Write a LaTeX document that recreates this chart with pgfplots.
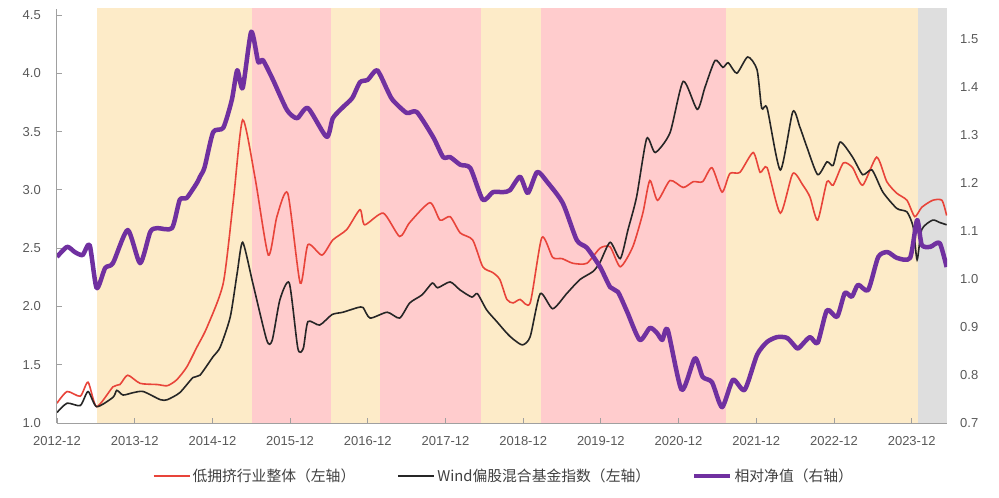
\documentclass[border=0pt]{standalone}
\usepackage{fontspec}
\setmainfont{Liberation Sans}
\newfontfamily\cjk{Noto Sans CJK SC}
\usepackage{pgfplots}
\pgfplotsset{compat=1.18}
\definecolor{bgyellow}{HTML}{FDEBC8}
\definecolor{bgpink}{HTML}{FFCCCD}
\definecolor{bggray}{HTML}{DEDEDE}
\definecolor{lred}{HTML}{E8443A}
\definecolor{lblack}{HTML}{262626}
\definecolor{lpurple}{HTML}{7030A0}
\definecolor{tickgray}{HTML}{595959}
\definecolor{axgray}{HTML}{A0A0A0}
\definecolor{leggray}{HTML}{404040}
\begin{document}
\begin{tikzpicture}
\path[use as bounding box] (0,0) rectangle (999bp,498bp);
\begin{axis}[
  at={(57bp,75bp)}, anchor=south west,
  scale only axis, width=890bp, height=414bp,
  xmin=0, xmax=11.455, ymin=1, ymax=4.551,
  axis x line*=bottom, axis y line*=left,
  axis line style={axgray, line width=1bp, -},
  axis on top,
  tick align=inside, major tick length=5bp,
  tick style={axgray, line width=0.8bp},
  xtick={0,1,2,3,4,5,6,7,8,9,10,11},
  xticklabels={2012-12,2013-12,2014-12,2015-12,2016-12,2017-12,2018-12,2019-12,2020-12,2021-12,2022-12,2023-12},
  xticklabel style={font=\fontsize{13bp}{15bp}\selectfont, text=tickgray, inner sep=0pt, yshift=-13bp},
  ytick={1,1.5,2,2.5,3,3.5,4,4.5},
  yticklabel style={font=\fontsize{13bp}{15bp}\selectfont, text=tickgray, inner sep=0pt, xshift=-16bp,
    /pgf/number format/.cd, fixed, fixed zerofill, precision=1, assume math mode=true},
]
\addplot[fill=bgyellow, draw=none, forget plot] coordinates {(0.515,4.6) (2.51,4.6)} \closedcycle;
\addplot[fill=bgpink, draw=none, forget plot] coordinates {(2.51,4.6) (3.53,4.6)} \closedcycle;
\addplot[fill=bgyellow, draw=none, forget plot] coordinates {(3.53,4.6) (4.16,4.6)} \closedcycle;
\addplot[fill=bgpink, draw=none, forget plot] coordinates {(4.16,4.6) (5.46,4.6)} \closedcycle;
\addplot[fill=bgyellow, draw=none, forget plot] coordinates {(5.46,4.6) (6.23,4.6)} \closedcycle;
\addplot[fill=bgpink, draw=none, forget plot] coordinates {(6.23,4.6) (8.61,4.6)} \closedcycle;
\addplot[fill=bgyellow, draw=none, forget plot] coordinates {(8.61,4.6) (11.08,4.6)} \closedcycle;
\addplot[fill=bggray, draw=none, forget plot] coordinates {(11.08,4.6) (11.46,4.6)} \closedcycle;
% 低拥挤行业整体
\addplot[lred, line width=1.6bp, smooth, tension=0.4] coordinates {
(0.00,1.17)(0.13,1.27)(0.30,1.23)(0.40,1.35)(0.51,1.14)(0.72,1.31)(0.81,1.33)(0.91,1.41)(1.07,1.34)(1.29,1.33)(1.42,1.32)(1.54,1.37)(1.67,1.48)(1.80,1.65)(1.93,1.82)(2.14,2.20)(2.27,2.91)(2.39,3.60)(2.55,3.10)(2.72,2.44)(2.83,2.77)(2.97,2.97)(3.13,2.20)(3.23,2.53)(3.41,2.44)(3.55,2.57)(3.73,2.66)(3.90,2.83)(3.96,2.70)(4.20,2.80)(4.41,2.60)(4.54,2.72)(4.80,2.89)(4.93,2.74)(5.06,2.77)(5.19,2.63)(5.35,2.57)(5.48,2.34)(5.61,2.29)(5.70,2.23)(5.79,2.06)(5.87,2.03)(5.96,2.06)(6.09,2.03)(6.24,2.59)(6.38,2.42)(6.50,2.41)(6.64,2.37)(6.82,2.37)(6.99,2.50)(7.12,2.51)(7.25,2.34)(7.41,2.51)(7.54,2.80)(7.63,3.08)(7.73,2.91)(7.89,3.08)(8.06,3.02)(8.19,3.07)(8.31,3.07)(8.43,3.19)(8.56,2.98)(8.66,3.14)(8.79,3.15)(8.96,3.32)(9.05,3.15)(9.14,3.19)(9.31,2.80)(9.47,3.14)(9.60,3.04)(9.69,2.94)(9.79,2.74)(9.91,3.07)(9.99,3.04)(10.12,3.23)(10.24,3.19)(10.37,3.04)(10.55,3.28)(10.68,3.07)(10.81,2.97)(10.94,2.91)(11.04,2.77)(11.13,2.85)(11.27,2.91)(11.39,2.91)(11.45,2.78)};
% Wind偏股混合基金指数
\addplot[lblack, line width=1.6bp, smooth, tension=0.4] coordinates {
(0.00,1.09)(0.13,1.17)(0.30,1.15)(0.40,1.27)(0.51,1.14)(0.72,1.22)(0.77,1.28)(0.85,1.24)(0.98,1.26)(1.11,1.27)(1.33,1.20)(1.42,1.20)(1.58,1.26)(1.75,1.39)(1.84,1.41)(2.01,1.57)(2.10,1.65)(2.23,1.91)(2.32,2.29)(2.39,2.55)(2.52,2.20)(2.70,1.71)(2.77,1.71)(2.87,2.06)(2.99,2.20)(3.10,1.64)(3.17,1.64)(3.23,1.87)(3.38,1.84)(3.54,1.93)(3.68,1.95)(3.87,1.99)(3.94,1.99)(4.03,1.90)(4.25,1.95)(4.41,1.90)(4.54,2.03)(4.70,2.10)(4.83,2.20)(4.90,2.16)(5.06,2.21)(5.19,2.14)(5.34,2.08)(5.41,2.11)(5.53,1.97)(5.66,1.87)(5.79,1.77)(5.87,1.72)(5.99,1.67)(6.09,1.74)(6.22,2.11)(6.38,1.98)(6.56,2.11)(6.73,2.23)(6.90,2.30)(6.99,2.38)(7.12,2.55)(7.25,2.41)(7.35,2.66)(7.46,2.94)(7.59,3.44)(7.70,3.32)(7.89,3.49)(8.06,3.93)(8.24,3.69)(8.34,3.88)(8.47,4.11)(8.57,4.05)(8.64,4.09)(8.75,4.00)(8.89,4.14)(9.01,4.03)(9.07,3.70)(9.14,3.70)(9.31,3.17)(9.47,3.67)(9.56,3.54)(9.65,3.37)(9.79,3.13)(9.91,3.24)(9.99,3.21)(10.08,3.41)(10.24,3.28)(10.37,3.13)(10.49,3.17)(10.63,2.98)(10.81,2.84)(10.94,2.81)(11.02,2.68)(11.07,2.40)(11.13,2.66)(11.27,2.74)(11.36,2.72)(11.45,2.70)};
\end{axis}
\begin{axis}[
  at={(57bp,75bp)}, anchor=south west,
  scale only axis, width=890bp, height=414bp,
  xmin=0, xmax=11.455, ymin=0.7, ymax=1.5625,
  axis x line=none, axis y line*=right,
  y axis line style={draw=none},
  major tick length=0pt,
  ytick={0.7,0.8,0.9,1.0,1.1,1.2,1.3,1.4,1.5},
  yticklabel style={font=\fontsize{13bp}{15bp}\selectfont, text=tickgray, inner sep=0pt, xshift=13bp,
    /pgf/number format/.cd, fixed, fixed zerofill, precision=1, assume math mode=true},
  legend style={at={(0.502,-0.128)}, anchor=center, draw=none, fill=none,
    font=\cjk\fontsize{14.8bp}{17bp}\selectfont, text=leggray,
    /tikz/every even column/.append style={column sep=40bp}},
  legend columns=3,
  legend image code/.code={\draw[#1] (0bp,0bp) -- (36bp,0bp);},
]
\addlegendimage{lred, line width=2bp}
\addlegendentry{低拥挤行业整体（左轴）}
\addlegendimage{lblack, line width=2bp}
\addlegendentry{Wind偏股混合基金指数（左轴）}
% 相对净值
\addplot[lpurple, line width=4.5bp, smooth, tension=0.4, line join=round] coordinates {
(0.00,1.046)(0.13,1.067)(0.23,1.056)(0.33,1.050)(0.42,1.071)(0.51,0.981)(0.62,1.023)(0.72,1.033)(0.91,1.102)(1.07,1.033)(1.20,1.098)(1.29,1.106)(1.48,1.106)(1.58,1.165)(1.67,1.169)(1.80,1.200)(1.84,1.213)(1.90,1.233)(2.01,1.306)(2.14,1.315)(2.25,1.373)(2.32,1.435)(2.39,1.398)(2.50,1.515)(2.59,1.452)(2.65,1.456)(2.78,1.415)(2.96,1.352)(3.09,1.335)(3.23,1.356)(3.47,1.296)(3.55,1.335)(3.68,1.358)(3.80,1.377)(3.90,1.410)(4.00,1.415)(4.12,1.435)(4.25,1.394)(4.32,1.373)(4.50,1.346)(4.63,1.348)(4.84,1.296)(4.97,1.254)(5.06,1.254)(5.19,1.238)(5.32,1.231)(5.48,1.165)(5.61,1.181)(5.74,1.181)(5.83,1.185)(5.96,1.213)(6.06,1.179)(6.18,1.223)(6.31,1.202)(6.51,1.158)(6.69,1.081)(6.82,1.065)(6.99,1.025)(7.12,0.983)(7.22,0.973)(7.34,0.931)(7.50,0.873)(7.63,0.898)(7.72,0.888)(7.79,0.873)(7.86,0.894)(8.04,0.769)(8.21,0.835)(8.31,0.796)(8.43,0.785)(8.56,0.733)(8.70,0.790)(8.85,0.769)(9.01,0.842)(9.14,0.869)(9.27,0.879)(9.40,0.877)(9.52,0.856)(9.56,0.858)(9.69,0.879)(9.79,0.867)(9.91,0.935)(10.04,0.921)(10.14,0.971)(10.23,0.963)(10.31,0.988)(10.44,0.977)(10.57,1.046)(10.69,1.056)(10.81,1.044)(10.98,1.044)(11.07,1.123)(11.13,1.071)(11.24,1.067)(11.36,1.075)(11.45,1.025)};
\addlegendentry{相对净值（右轴）}
\end{axis}
\end{tikzpicture}
\end{document}
